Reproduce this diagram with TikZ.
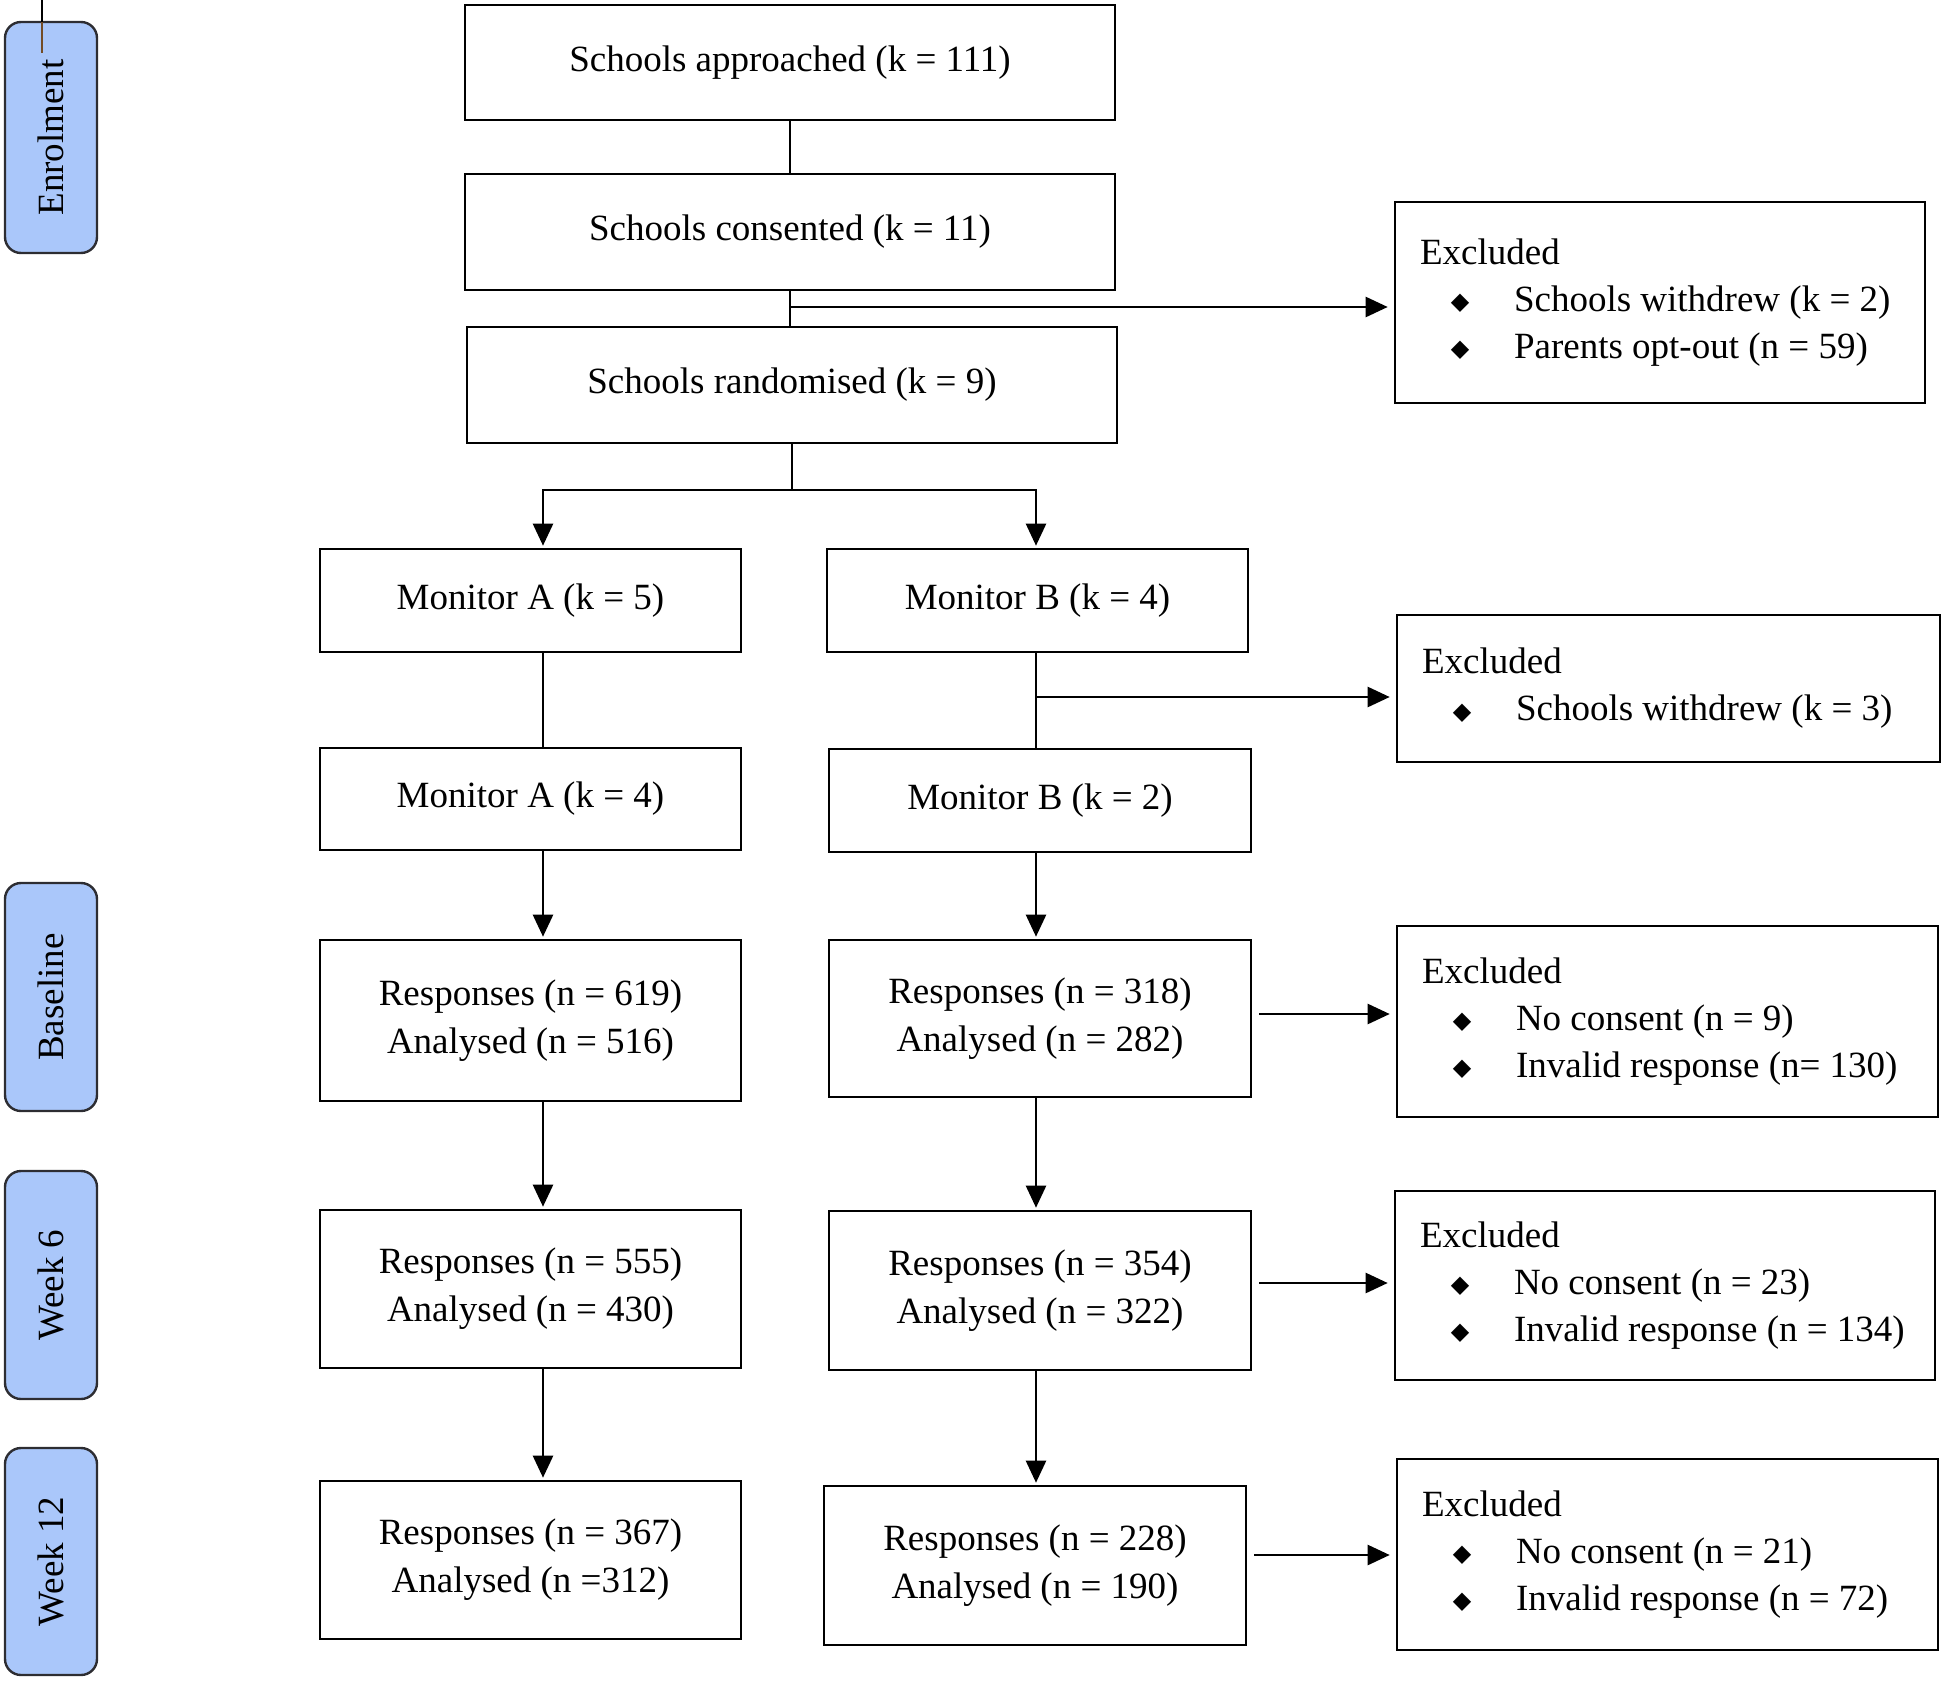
\documentclass[tikz,border=0pt]{standalone}
\usepackage{fontspec}
\setmainfont{Liberation Serif}
\newfontfamily\djv{DejaVu Sans}
\usetikzlibrary{arrows.meta}
\definecolor{tabblue}{RGB}{170,199,250}
\definecolor{tabedge}{RGB}{45,45,50}
\newcommand\fs{\fontsize{18.5}{24}\selectfont}
\newcommand\itm[1]{\\\mbox{\hspace*{16pt}\makebox[8pt][c]{\raisebox{0.8pt}{\djv\fontsize{12}{12}\selectfont ◆}}\hspace*{23pt}#1}}
\begin{document}
\begin{tikzpicture}[x=0.5pt,y=-0.5pt,
  box/.style={draw, line width=1.3pt, inner sep=0pt, align=center, font=\fs},
  exbox/.style={draw, line width=1.3pt, inner xsep=12.5pt, inner ysep=0pt, align=flush left, font=\fontsize{18.5}{23.5}\selectfont},
  tabbox/.style={draw=tabedge, fill=tabblue, line width=1.2pt, rounded corners=8pt, rotate=90, inner sep=0pt, font=\fs, minimum height=46pt},
  conn/.style={line width=1.2pt},
  arr/.style={line width=1.2pt, -{Triangle[length=11pt,width=10pt]}, shorten >=1pt}]
\useasboundingbox (0,0) rectangle (1944,1681);

% side tabs
\node[tabbox, minimum width=115.5pt] (tEn) at (51,137.5) {Enrolment};
\node[tabbox, minimum width=114pt] (tBa) at (51,997) {Baseline};
\node[tabbox, minimum width=114pt] (tW6) at (51,1285) {Week 6};
\node[tabbox, minimum width=113.5pt] (tW12) at (51,1561.5) {Week 12};
\coordinate (lt) at (42,0);
\coordinate (lm) at (42,22);
\coordinate (lb) at (42,53);
\draw[line width=1pt] (lt) -- (lm);
\draw[line width=1pt, brown!60!black] (lm) -- (lb);

% main column boxes
\node[box, minimum width=325pt, minimum height=57.5pt] (appr) at (790,62.5) {Schools approached (k = 111)};
\node[box, minimum width=325pt, minimum height=58pt] (cons) at (790,232) {Schools consented (k = 11)};
\node[box, minimum width=325pt, minimum height=58pt] (rand) at (792,385) {Schools randomised (k = 9)};

\node[box, minimum width=210.5pt, minimum height=51.5pt] (monA1) at (530.5,600.5) {Monitor A (k = 5)};
\node[box, minimum width=210.5pt, minimum height=51.5pt] (monB1) at (1037.5,600.5) {Monitor B (k = 4)};
\node[box, minimum width=210.5pt, minimum height=51pt] (monA2) at (530.5,799) {Monitor A (k = 4)};
\node[box, minimum width=211pt, minimum height=51.5pt] (monB2) at (1040,800.5) {Monitor B (k = 2)};

\node[box, minimum width=210.5pt, minimum height=80.5pt] (baseA) at (530.5,1020.5) {Responses (n = 619)\\Analysed (n = 516)};
\node[box, minimum width=211pt, minimum height=78.5pt] (baseB) at (1040,1018.5) {Responses (n = 318)\\Analysed (n = 282)};
\node[box, minimum width=210.5pt, minimum height=79pt] (w6A) at (530.5,1289) {Responses (n = 555)\\Analysed (n = 430)};
\node[box, minimum width=211pt, minimum height=79.5pt] (w6B) at (1040,1290.5) {Responses (n = 354)\\Analysed (n = 322)};
\node[box, minimum width=210.5pt, minimum height=79pt] (w12A) at (530.5,1560) {Responses (n = 367)\\Analysed (n =312)};
\node[box, minimum width=211pt, minimum height=79.5pt] (w12B) at (1035,1565.5) {Responses (n = 228)\\Analysed (n = 190)};

% excluded boxes
\node[exbox, text width=240pt, minimum height=100.5pt] (ex1) at (1660,302.5) {Excluded\itm{Schools withdrew (k = 2)}\itm{Parents opt-out (n = 59)}};
\node[exbox, text width=246.5pt, minimum height=73.5pt] (ex2) at (1668.5,688.5) {Excluded\itm{Schools withdrew (k = 3)}};
\node[exbox, text width=245.5pt, minimum height=95.5pt] (ex3) at (1667.5,1021.5) {Excluded\itm{No consent (n = 9)}\itm{Invalid response (n= 130)}};
\node[exbox, text width=245pt, minimum height=94.5pt] (ex4) at (1665,1285.5) {Excluded\itm{No consent (n = 23)}\itm{Invalid response (n = 134)}};
\node[exbox, text width=245.5pt, minimum height=95.5pt] (ex5) at (1667.5,1554.5) {Excluded\itm{No consent (n = 21)}\itm{Invalid response (n = 72)}};

% connectors
\coordinate (colA) at (543,0);
\coordinate (colB) at (1036,0);
\draw[conn] (appr.south) -- (cons.north);
\draw[conn] (cons.south) -- (cons.south |- rand.north);
\coordinate (b1) at (790,307);
\draw[arr, shorten >=3pt] (b1) -- (b1 -| ex1.west);
\coordinate (sp) at (792,490);
\draw[conn] (rand.south) -- (sp);
\draw[arr] (sp) -| (colA |- monA1.north);
\draw[arr] (sp) -| (colB |- monB1.north);
\draw[conn] (colA |- monA1.south) -- (colA |- monA2.north);
\draw[conn] (colB |- monB1.south) -- (colB |- monB2.north);
\coordinate (b2) at (1036,697);
\draw[arr, shorten >=3pt] (b2) -- (b2 -| ex2.west);
\draw[arr] (colA |- monA2.south) -- (colA |- baseA.north);
\draw[arr] (colB |- monB2.south) -- (colB |- baseB.north);
\draw[arr] (colA |- baseA.south) -- (colA |- w6A.north);
\draw[arr] (colB |- baseB.south) -- (colB |- w6B.north);
\draw[arr] (colA |- w6A.south) -- (colA |- w12A.north);
\draw[arr] (colB |- w6B.south) -- (colB |- w12B.north);
\coordinate (h3) at (0,1014);
\coordinate (h4) at (0,1283);
\coordinate (h5) at (0,1555);
\draw[arr, shorten <=3.5pt, shorten >=3pt] (baseB.east |- h3) -- (ex3.west |- h3);
\draw[arr, shorten <=3.5pt, shorten >=3pt] (w6B.east |- h4) -- (ex4.west |- h4);
\draw[arr, shorten <=3.5pt, shorten >=3pt] (w12B.east |- h5) -- (ex5.west |- h5);
\end{tikzpicture}
\end{document}
